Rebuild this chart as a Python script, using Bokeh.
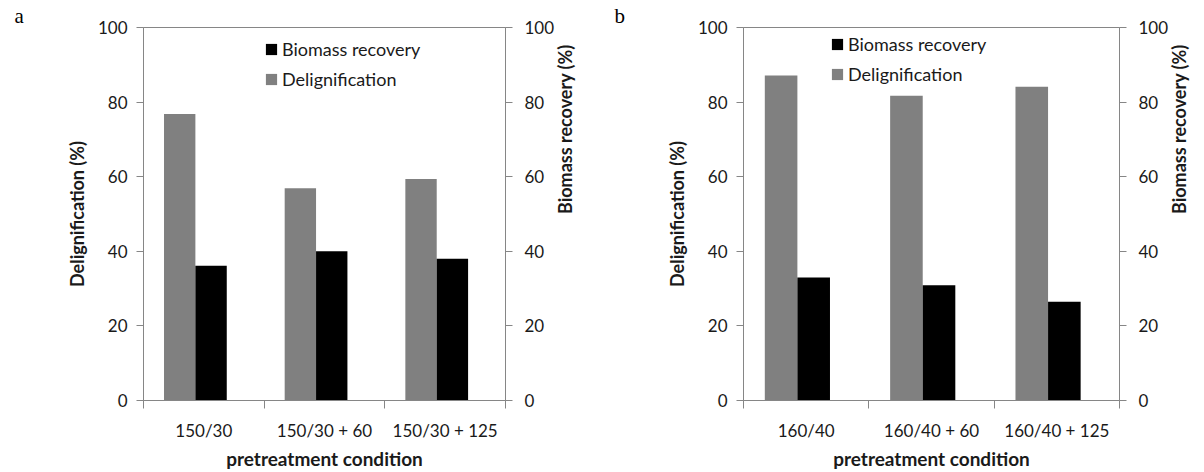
import math
import numpy as np
from bokeh.plotting import figure
from bokeh.layouts import row
from bokeh.models import (Range1d, LinearAxis, FixedTicker, Legend, LegendItem,
                          Title, ColumnDataSource)
from bokeh.embed import file_html
from bokeh.resources import INLINE

# ---- data ----
cats_a = ["150/30", "150/30 + 60", "150/30 + 125"]
delig_a = [76.8, 56.9, 59.4]
biomass_a = [36.1, 40.0, 38.0]

cats_b = ["160/40", "160/40 + 60", "160/40 + 125"]
delig_b = [87.1, 81.7, 84.1]
biomass_b = [33.0, 30.9, 26.5]

y_ticks = [0, 20, 40, 60, 80, 100]

FONT = "Lato"
AXIS_COLOR = "#868686"
TEXT_COLOR = "#1a1a1a"
LEFT_B, TOP_B, BOTTOM_B = 143, 27, 72


def style_axis(ax, title_size="18px"):
    ax.axis_line_color = AXIS_COLOR
    ax.major_tick_line_color = AXIS_COLOR
    ax.minor_tick_line_color = AXIS_COLOR
    ax.major_label_text_font = FONT
    ax.major_label_text_font_size = "17px"
    ax.major_label_text_color = TEXT_COLOR
    ax.axis_label_text_font = FONT
    ax.axis_label_text_font_size = title_size
    ax.axis_label_text_font_style = "bold"
    ax.axis_label_text_color = TEXT_COLOR


def make_panel(letter, cats, delig, biomass, width, frame_w, leg_x, leg_top):
    n = len(cats)
    centers = np.arange(n) + 0.5
    src = ColumnDataSource(dict(xg=centers - 0.2, xb=centers + 0.06,
                                delig=delig, biomass=biomass))
    p = figure(width=width, height=472, x_range=Range1d(0, n),
               y_range=Range1d(0, 100), output_backend="svg",
               toolbar_location=None, min_border_left=LEFT_B,
               min_border_right=width - LEFT_B - frame_w,
               min_border_top=TOP_B, min_border_bottom=BOTTOM_B)
    p.extra_y_ranges = {"right": Range1d(0, 100)}
    p.xgrid.grid_line_color = None
    p.ygrid.grid_line_color = None
    p.outline_line_color = AXIS_COLOR
    p.background_fill_color = "white"
    p.border_fill_color = "white"

    rg = p.vbar(x="xg", top="delig", width=0.26, source=src,
                fill_color="#808080", line_color=None)
    rb = p.vbar(x="xb", top="biomass", width=0.26, source=src,
                fill_color="#000000", line_color=None, y_range_name="right")

    # x axis: labels at centers, boundary ticks as minor ticks
    xa = p.xaxis[0]
    xa.ticker = FixedTicker(ticks=list(centers), minor_ticks=list(range(n + 1)))
    xa.major_label_overrides = {float(c): lab for c, lab in zip(centers, cats)}
    style_axis(xa, "19px")
    xa.major_tick_line_color = None
    xa.major_tick_out = 0
    xa.major_tick_in = 0
    xa.minor_tick_out = 8
    xa.minor_tick_in = 0
    xa.major_label_standoff = 11
    xa.axis_label = "pretreatment condition"
    xa.axis_label_standoff = 3

    ya = p.yaxis[0]
    ya.ticker = FixedTicker(ticks=y_ticks)
    style_axis(ya)
    ya.major_tick_out = 7
    ya.major_tick_in = 0
    ya.minor_tick_line_color = None
    ya.major_label_standoff = 9
    ya.axis_label = "Delignification (%)"
    ya.axis_label_standoff = 7

    ra = LinearAxis(y_range_name="right", ticker=FixedTicker(ticks=y_ticks))
    style_axis(ra)
    ra.major_tick_out = 7
    ra.major_tick_in = 0
    ra.minor_tick_line_color = None
    ra.major_label_standoff = 12
    ra.axis_label = "Biomass recovery (%)"
    ra.axis_label_standoff = 8
    ra.axis_label_orientation = math.pi / 2
    p.add_layout(ra, "right")

    frame_h = 472 - TOP_B - BOTTOM_B
    leg_h = 52
    legend = Legend(items=[LegendItem(label="Biomass recovery", renderers=[rb]),
                           LegendItem(label="Delignification", renderers=[rg])],
                    location=(leg_x, frame_h - leg_top - leg_h),
                    glyph_width=14, glyph_height=14, label_height=22,
                    spacing=8, padding=0, margin=0, label_standoff=4,
                    border_line_color=None, background_fill_alpha=0,
                    label_text_font=FONT, label_text_font_size="18px",
                    label_text_color=TEXT_COLOR)
    p.add_layout(legend)

    p.add_layout(Title(text=letter, align="left", offset=-129, standoff=0,
                       text_font="Liberation Serif", text_font_size="21px",
                       text_font_style="normal", text_color="black"), "above")
    return p


pa = make_panel("a", cats_a, delig_a, biomass_a, 600, 362, 121, 11)
pb = make_panel("b", cats_b, delig_b, biomass_b, 604, 377, 87, 6)

layout = row(pa, pb)
open("out.html", "w").write(file_html(layout, INLINE))
